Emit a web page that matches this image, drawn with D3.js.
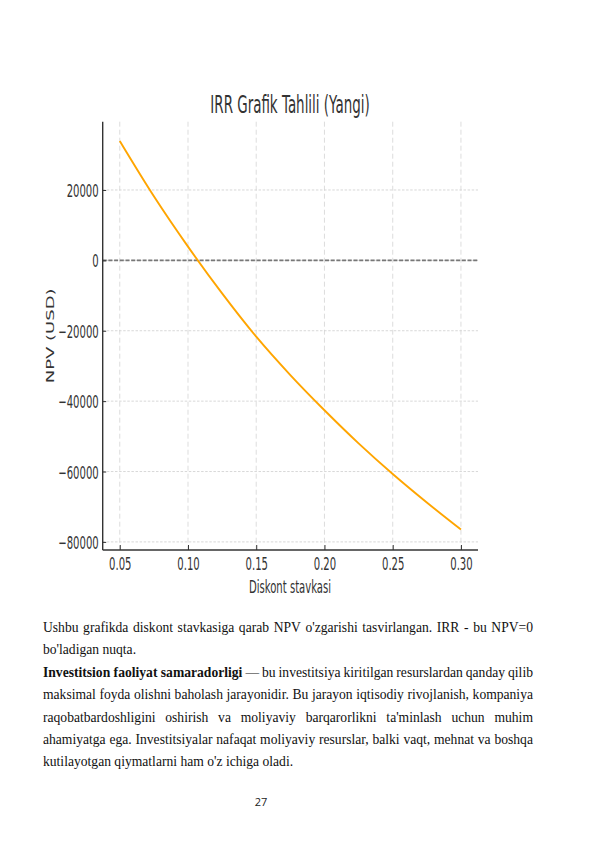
<!DOCTYPE html>
<html>
<head>
<meta charset="utf-8">
<script src="https://cdn.jsdelivr.net/npm/d3@7"></script>
<style>
  html, body { margin: 0; padding: 0; background: #fff; }
  body { width: 596px; height: 842px; position: relative; overflow: hidden; }
  svg { position: absolute; left: 0; top: 0; }
  .txt { position: absolute; left: 43px; width: 490px; top: 617px;
         font-family: "Liberation Serif", "Times New Roman", serif; font-size: 13.6px; color: #111; }
  .ln { height: 22.4px; line-height: 22.4px; white-space: nowrap; }
  .ln.just { display: flex; justify-content: space-between; }
  .pg { position: absolute; left: 251px; width: 20px; top: 794px; text-align: center;
        font-family: "Open Sans", "Liberation Sans", sans-serif; font-size: 11px; color: #222; }
</style>
</head>
<body>
<svg id="chart" width="596" height="610"></svg>
<div class="txt" id="txt"></div>
<div class="pg">27</div>
<script>
// discount rate vs NPV
var rates = [0.05, 0.075, 0.10, 0.125, 0.15, 0.175, 0.20, 0.225, 0.25, 0.275, 0.30],
    npv = [33900, 18200, 3900, -9400, -21700, -32600, -42600, -52000, -60700, -68800, -76500],
    xTicks = [0.05, 0.10, 0.15, 0.20, 0.25, 0.30],
    yTicks = [20000, 0, -20000, -40000, -60000, -80000]

var title = "IRR Grafik Tahlili (Yangi)",
    xLabel = "Diskont stavkasi",
    yLabel = "NPV (USD)"

var lines = [
    "Ushbu grafikda diskont stavkasiga qarab NPV o'zgarishi tasvirlangan. IRR - bu NPV=0",
    "bo'ladigan nuqta.",
    "Investitsion faoliyat samaradorligi — bu investitsiya kiritilgan resurslardan qanday qilib",
    "maksimal foyda olishni baholash jarayonidir. Bu jarayon iqtisodiy rivojlanish, kompaniya",
    "raqobatbardoshligini oshirish va moliyaviy barqarorlikni ta'minlash uchun muhim",
    "ahamiyatga ega. Investitsiyalar nafaqat moliyaviy resurslar, balki vaqt, mehnat va boshqa",
    "kutilayotgan qiymatlarni ham o'z ichiga oladi."
]
var lastLines = [1, 6],
    boldWords = { 2: 3 }

var pLeft = 102.7, pRight = 478, pTop = 121.7, pBottom = 550,
    sx = 0.56,   // picture was squeezed horizontally
    font = "DejaVu Sans"

var x = d3.scaleLinear().domain([0.0375, 0.3125]).range([pLeft, pRight])
var y = d3.scaleLinear().domain([-82300, 39400]).range([pBottom, pTop])

var svg = d3.select("#chart")

// grid
svg.append("g").selectAll("line")
    .data(xTicks)
    .enter().append("line")
    .attr("x1", d => x(d)).attr("x2", d => x(d))
    .attr("y1", pTop).attr("y2", pBottom)
    .style("stroke", "#d4d4d4").style("stroke-width", 0.8)
    .style("stroke-dasharray", "5,3")

svg.append("g").selectAll("line")
    .data(yTicks)
    .enter().append("line")
    .attr("x1", pLeft).attr("x2", pRight)
    .attr("y1", d => y(d)).attr("y2", d => y(d))
    .style("stroke", "#d4d4d4").style("stroke-width", 0.9)
    .style("stroke-dasharray", "2.5,1.6")

// zero line
svg.append("line")
    .attr("x1", pLeft).attr("x2", pRight)
    .attr("y1", y(0)).attr("y2", y(0))
    .style("stroke", "#777").style("stroke-width", 1.8)
    .style("stroke-dasharray", "4,1.7")

// curve
var line = d3.line()
    .x((d, i) => x(rates[i]))
    .y(d => y(d))
    .curve(d3.curveCatmullRom)

svg.append("path")
    .datum(npv)
    .attr("d", line)
    .style("fill", "none")
    .style("stroke", "#FFA500")
    .style("stroke-width", 1.9)

// axes
var xAxis = svg.append("g")
    .attr("transform", "translate(0," + pBottom + ")")
    .call(d3.axisBottom(x).tickValues(xTicks).tickSizeInner(-5).tickSizeOuter(0).tickFormat(d3.format(".2f")))
var yAxis = svg.append("g")
    .attr("transform", "translate(" + pLeft + ",0)")
    .call(d3.axisLeft(y).tickValues(yTicks).tickSizeInner(-3.5).tickSizeOuter(0).tickFormat(d => d < 0 ? "\u2212" + Math.abs(d) : d))

svg.selectAll(".domain").style("stroke", "#333").style("stroke-width", 1.4)
xAxis.select(".domain").attr("d", "M" + pLeft + ",0H" + pRight)
yAxis.select(".domain").attr("d", "M0," + pTop + "V" + pBottom)
svg.selectAll(".tick line").style("stroke", "#333").style("stroke-width", 1)

xAxis.selectAll(".tick text")
    .attr("y", null).attr("dy", null)
    .attr("transform", "translate(0,20) scale(" + sx + ",1)")
    .style("font-family", font).style("font-size", "18px").style("fill", "#333")
    .attr("text-anchor", "middle")

yAxis.selectAll(".tick text")
    .attr("x", null).attr("dy", "0.36em")
    .attr("transform", "translate(-4,0) scale(" + sx + ",1)")
    .style("font-family", font).style("font-size", "18px").style("fill", "#333")
    .attr("text-anchor", "end")

svg.append("text")
    .attr("transform", "translate(290,113) scale(" + sx + ",1)")
    .attr("text-anchor", "middle")
    .style("font-family", font).style("font-size", "24px").style("fill", "#333")
    .text(title)

svg.append("text")
    .attr("transform", "translate(290,593) scale(" + sx + ",1)")
    .attr("text-anchor", "middle")
    .style("font-family", font).style("font-size", "18px").style("fill", "#333")
    .text(xLabel)

svg.append("text")
    .attr("transform", "translate(54," + ((pTop + pBottom) / 2) + ") scale(" + sx + ",1) rotate(-90)")
    .attr("text-anchor", "middle")
    .style("font-family", font).style("font-size", "18px").style("fill", "#333")
    .text(yLabel)

// text under the chart, justified line by line
var rows = d3.select("#txt").selectAll("div")
    .data(lines)
    .enter().append("div")
    .attr("class", (d, i) => lastLines.indexOf(i) >= 0 ? "ln" : "ln just")

rows.each(function (d, i) {
    var row = d3.select(this),
        nb = boldWords[i] || 0
    if (lastLines.indexOf(i) >= 0) {
        row.text(d)
        return
    }
    var words = d.split(" ")
    if (nb > 0) {
        row.append("b").text(words.slice(0, nb).join(" "))
        words = words.slice(nb)
    }
    words.forEach(w => row.append("span").text(w))
})
</script>
</body>
</html>
